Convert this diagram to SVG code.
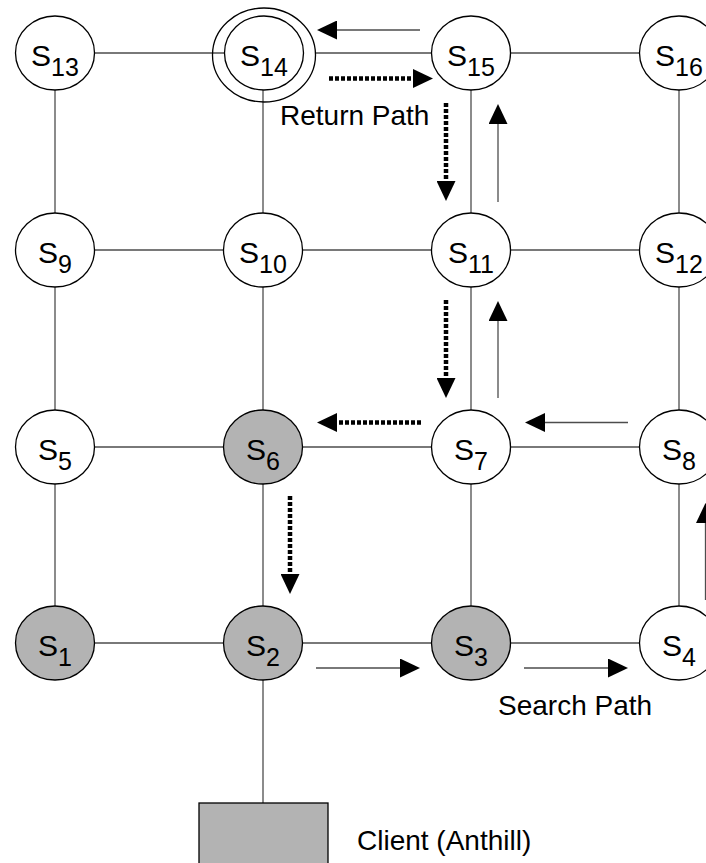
<svg xmlns="http://www.w3.org/2000/svg" width="706" height="863" viewBox="0 0 706 863">
  <defs>
    <!-- filled triangular head; starts at the end of the shaft -->
    <marker id="head" markerWidth="20" markerHeight="19" refX="0" refY="9.5" orient="auto" markerUnits="userSpaceOnUse">
      <path d="M0,0 L20,9.5 L0,19 Z" fill="#000"/>
    </marker>
  </defs>
  <style>
    .edge { stroke: #4d4d4d; stroke-width: 1.3; fill: none; }
    .node { stroke: #000; stroke-width: 1.3; fill: #fff; }
    .node.visited { fill: #b3b3b3; }
    .ring { stroke: #000; stroke-width: 1.3; fill: none; }
    .search { stroke: #4d4d4d; stroke-width: 1.3; fill: none; marker-end: url(#head); }
    .return { stroke: #000; stroke-width: 4.5; stroke-dasharray: 4 2; fill: none; marker-end: url(#head); }
    .lbl { font-family: "Liberation Sans", Arial, sans-serif; font-size: 30px; fill: #000; text-anchor: middle; }
    .lbl tspan { font-size: 25px; }
    .note { font-family: "Liberation Sans", Arial, sans-serif; font-size: 28px; fill: #000; }
  </style>
  <rect width="706" height="863" fill="#fff"/>

  <!-- grid links between peers -->
  <g id="connectors">
    <!-- row 4 (top) -->
    <line class="edge" x1="94.5" y1="53" x2="225" y2="53"/>
    <line class="edge" x1="316" y1="53" x2="431.5" y2="53"/>
    <line class="edge" x1="510.5" y1="53" x2="639.5" y2="53"/>
    <!-- row 3 -->
    <line class="edge" x1="94.5" y1="250" x2="223.5" y2="250"/>
    <line class="edge" x1="302.5" y1="250" x2="431.5" y2="250"/>
    <line class="edge" x1="510.5" y1="250" x2="639.5" y2="250"/>
    <!-- row 2 -->
    <line class="edge" x1="94.5" y1="447" x2="223.5" y2="447"/>
    <line class="edge" x1="302.5" y1="447" x2="431.5" y2="447"/>
    <line class="edge" x1="510.5" y1="447" x2="639.5" y2="447"/>
    <!-- row 1 (bottom) -->
    <line class="edge" x1="94.5" y1="643" x2="223.5" y2="643"/>
    <line class="edge" x1="302.5" y1="643" x2="431.5" y2="643"/>
    <line class="edge" x1="510.5" y1="643" x2="639.5" y2="643"/>
    <!-- columns -->
    <line class="edge" x1="55" y1="90" x2="55" y2="213"/>
    <line class="edge" x1="55" y1="287" x2="55" y2="410"/>
    <line class="edge" x1="55" y1="484" x2="55" y2="606"/>
    <line class="edge" x1="263" y1="90" x2="263" y2="213"/>
    <line class="edge" x1="263" y1="287" x2="263" y2="410"/>
    <line class="edge" x1="263" y1="484" x2="263" y2="606"/>
    <line class="edge" x1="471" y1="90" x2="471" y2="213"/>
    <line class="edge" x1="471" y1="287" x2="471" y2="410"/>
    <line class="edge" x1="471" y1="484" x2="471" y2="606"/>
    <line class="edge" x1="679" y1="90" x2="679" y2="213"/>
    <line class="edge" x1="679" y1="287" x2="679" y2="410"/>
    <line class="edge" x1="679" y1="484" x2="679" y2="606"/>
    <!-- S2 to client -->
    <line class="edge" x1="263" y1="680" x2="263" y2="803"/>

    <!-- search path (solid) -->
    <line class="search" x1="316" y1="668" x2="400" y2="668"/>
    <line class="search" x1="524" y1="668" x2="608" y2="668"/>
    <line class="search" x1="705.5" y1="600" x2="705.5" y2="523"/>
    <line class="search" x1="628" y1="422.5" x2="545" y2="422.5"/>
    <line class="search" x1="498" y1="398" x2="498" y2="321"/>
    <line class="search" x1="498" y1="202" x2="498" y2="124"/>
    <line class="search" x1="420" y1="30" x2="337" y2="30"/>

    <!-- return path (dotted) -->
    <line class="return" x1="329" y1="78.5" x2="413" y2="78.5"/>
    <line class="return" x1="446" y1="103" x2="446" y2="181"/>
    <line class="return" x1="446" y1="300" x2="446" y2="378"/>
    <line class="return" x1="421" y1="422.5" x2="337" y2="422.5"/>
    <line class="return" x1="290" y1="496" x2="290" y2="574"/>
  </g>

  <!-- peers -->
  <g id="S13"><ellipse class="node" cx="55" cy="53" rx="39.5" ry="37"/><text class="lbl" x="55" y="65.5">S<tspan dy="10">13</tspan></text></g>
  <g id="S14">
    <ellipse class="ring" cx="264" cy="55" rx="51.5" ry="47"/>
    <ellipse class="node" cx="264" cy="53" rx="39.5" ry="37"/>
    <text class="lbl" x="264" y="65.5">S<tspan dy="10">14</tspan></text>
  </g>
  <g id="S15"><ellipse class="node" cx="471" cy="53" rx="39.5" ry="37"/><text class="lbl" x="471" y="65.5">S<tspan dy="10">15</tspan></text></g>
  <g id="S16"><ellipse class="node" cx="679" cy="53" rx="39.5" ry="37"/><text class="lbl" x="679" y="65.5">S<tspan dy="10">16</tspan></text></g>

  <g id="S9"><ellipse class="node" cx="55" cy="250" rx="39.5" ry="37"/><text class="lbl" x="55" y="262.5">S<tspan dy="10">9</tspan></text></g>
  <g id="S10"><ellipse class="node" cx="263" cy="250" rx="39.5" ry="37"/><text class="lbl" x="263" y="262.5">S<tspan dy="10">10</tspan></text></g>
  <g id="S11"><ellipse class="node" cx="471" cy="250" rx="39.5" ry="37"/><text class="lbl" x="471" y="262.5">S<tspan dy="10">11</tspan></text></g>
  <g id="S12"><ellipse class="node" cx="679" cy="250" rx="39.5" ry="37"/><text class="lbl" x="679" y="262.5">S<tspan dy="10">12</tspan></text></g>

  <g id="S5"><ellipse class="node" cx="55" cy="447" rx="39.5" ry="37"/><text class="lbl" x="55" y="459.5">S<tspan dy="10">5</tspan></text></g>
  <g id="S6"><ellipse class="node visited" cx="263" cy="447" rx="39.5" ry="37"/><text class="lbl" x="263" y="459.5">S<tspan dy="10">6</tspan></text></g>
  <g id="S7"><ellipse class="node" cx="471" cy="447" rx="39.5" ry="37"/><text class="lbl" x="471" y="459.5">S<tspan dy="10">7</tspan></text></g>
  <g id="S8"><ellipse class="node" cx="679" cy="447" rx="39.5" ry="37"/><text class="lbl" x="679" y="459.5">S<tspan dy="10">8</tspan></text></g>

  <g id="S1"><ellipse class="node visited" cx="55" cy="643" rx="39.5" ry="37"/><text class="lbl" x="55" y="655.5">S<tspan dy="10">1</tspan></text></g>
  <g id="S2"><ellipse class="node visited" cx="263" cy="643" rx="39.5" ry="37"/><text class="lbl" x="263" y="655.5">S<tspan dy="10">2</tspan></text></g>
  <g id="S3"><ellipse class="node visited" cx="471" cy="643" rx="39.5" ry="37"/><text class="lbl" x="471" y="655.5">S<tspan dy="10">3</tspan></text></g>
  <g id="S4"><ellipse class="node" cx="679" cy="643" rx="39.5" ry="37"/><text class="lbl" x="679" y="655.5">S<tspan dy="10">4</tspan></text></g>

  <g id="client">
    <rect x="199" y="803" width="129" height="70" fill="#b3b3b3" stroke="#000" stroke-width="1.3"/>
    <text class="note" x="357" y="850">Client (Anthill)</text>
  </g>

  <!-- path captions -->
  <g id="captions">
    <text class="note" x="280" y="124.5">Return Path</text>
    <text class="note" x="498" y="715">Search Path</text>
  </g>
</svg>
